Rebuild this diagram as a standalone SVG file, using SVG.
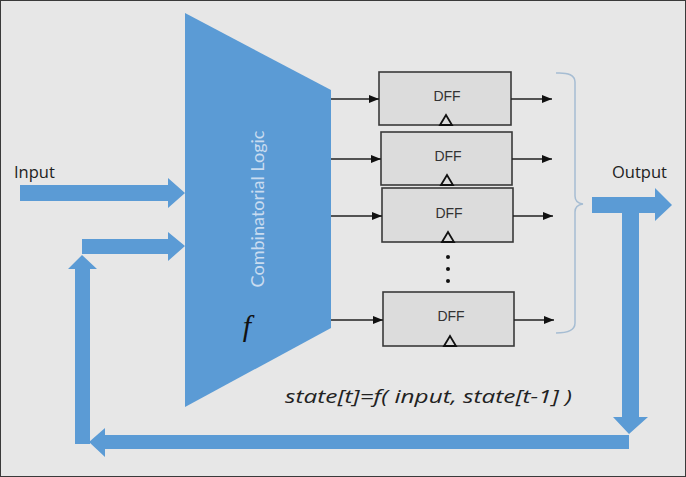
<svg xmlns="http://www.w3.org/2000/svg" width="686" height="477" viewBox="0 0 686 477">
<style>
.blue{fill:#5b9bd5}
.dff rect{fill:#dcdcdc;stroke:#3a3a3a;stroke-width:1.6}
.dff text{font-family:"Liberation Sans",Arial,sans-serif;font-size:14px;fill:#333;text-anchor:middle}
.dff path{fill:none;stroke:#111;stroke-width:1.8}
.wire{stroke:#222;stroke-width:1.4;fill:none;marker-end:url(#ah)}
.lbl{font-family:"Open Sans","Liberation Sans",sans-serif;font-size:16.5px;fill:#222}
</style>
<defs>
<marker id="ah" markerWidth="10" markerHeight="8" refX="10" refY="4" orient="auto" markerUnits="userSpaceOnUse">
<path d="M0,0 L10,4 L0,8 Z" fill="#111"/>
</marker>
</defs>
<rect x="0" y="0" width="686" height="477" fill="#e7e7e7"/>
<rect x="0.5" y="0.5" width="685" height="476" fill="none" stroke="#3a3a3a" stroke-width="1"/>

<g id="logic">
<polygon class="blue" points="185,13 331,90 331,328 185,407"/>
<text x="0" y="0" transform="translate(264,209) rotate(-90)" font-family="Lato,'Open Sans',sans-serif" font-size="16.5" fill="#c9dcf0" text-anchor="middle" textLength="157" lengthAdjust="spacingAndGlyphs">Combinatorial Logic</text>
<text x="247" y="336" font-family="'Liberation Serif',serif" font-style="italic" font-size="30" fill="#111" text-anchor="middle">f</text>
</g>

<g id="dff1" class="dff">
<rect x="379" y="72" width="132" height="53"/>
<text x="447" y="101">DFF</text>
<path d="M440,125 L446,115 L452,125 Z"/>
</g>
<g id="dff2" class="dff">
<rect x="381" y="132" width="131" height="53"/>
<text x="448" y="161">DFF</text>
<path d="M441,185 L447,175 L453,185 Z"/>
</g>
<g id="dff3" class="dff">
<rect x="382" y="188" width="131" height="54"/>
<text x="449" y="218">DFF</text>
<path d="M442,242 L448,232 L454,242 Z"/>
</g>
<g id="dff4" class="dff">
<rect x="383" y="292" width="131" height="54"/>
<text x="451" y="321">DFF</text>
<path d="M444,346 L450,336 L456,346 Z"/>
</g>
<g id="dots" fill="#111">
<circle cx="448" cy="257" r="2"/>
<circle cx="448" cy="269" r="2"/>
<circle cx="448" cy="281" r="2"/>
</g>

<g id="connectors">
<line class="wire" x1="331" y1="99" x2="379" y2="99"/>
<line class="wire" x1="331" y1="159" x2="381" y2="159"/>
<line class="wire" x1="331" y1="216" x2="382" y2="216"/>
<line class="wire" x1="331" y1="320" x2="383" y2="320"/>
<line class="wire" x1="511" y1="99" x2="552" y2="99"/>
<line class="wire" x1="512" y1="159" x2="552" y2="159"/>
<line class="wire" x1="513" y1="216" x2="553" y2="216"/>
<line class="wire" x1="514" y1="320" x2="554" y2="320"/>
<path d="M556,73 Q575,72 575,82 L575,196 Q575,203 583,204 Q575,205 575,212 L575,323 Q575,333 556,333" fill="none" stroke="#a6bdd3" stroke-width="1.5"/>
<polygon class="blue" points="20,185 168,185 168,178 185,193 168,208 168,201 20,201"/>
<polygon class="blue" points="82,239 168,239 168,232 185,246 168,261 168,254 82,254"/>
<polygon class="blue" points="592,197 655,197 655,188 672,205 655,221 655,213 592,213"/>
<polygon class="blue" points="622,208 639,208 639,417 648,417 629,434 613,417 622,417"/>
<polygon class="blue" points="629,435 629,449 105,449 105,457 89,442 105,428 105,435"/>
<polygon class="blue" points="75,444 90,444 90,269 97,269 82,255 68,269 75,269"/>
</g>

<text class="lbl" x="14" y="178">Input</text>
<text class="lbl" x="612" y="178">Output</text>
<text x="285" y="403" font-family="'Open Sans','Liberation Sans',sans-serif" font-style="italic" font-size="19" fill="#222" textLength="287" lengthAdjust="spacingAndGlyphs">state[t]=f( input, state[t-1] )</text>
</svg>
